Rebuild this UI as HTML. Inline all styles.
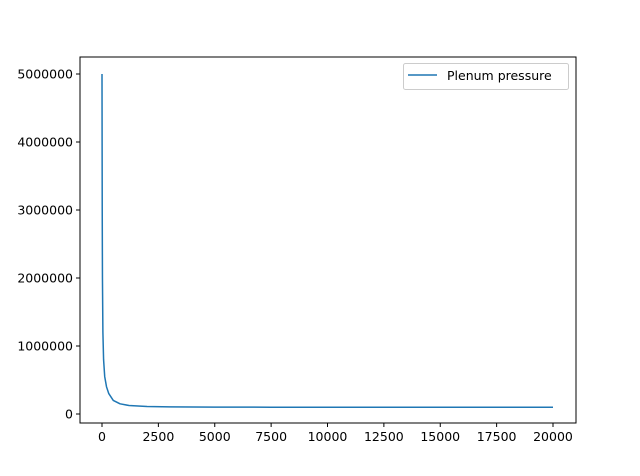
<!DOCTYPE html>
<html><head><meta charset="utf-8"><style>
body{margin:0;background:#fff;}
svg{display:block;font-family:"DejaVu Sans","Liberation Sans",sans-serif;}
</style></head><body>
<svg id="chart" width="640" height="476"></svg>
<script>
const times=[0,5,10,20,40,70,120,200,300,500,800,1200,2000,3000,5000,7500,10000,15000,20000];
const pressures=[5000000,4000000,3000000,2000000,1200000,800000,550000,400000,300000,200000,150000,125000,110000,104000,101000,100000,100000,100000,100000];
const xTicks=[0,2500,5000,7500,10000,12500,15000,17500,20000];
const yTicks=[0,1000000,2000000,3000000,4000000,5000000];
const seriesName='Plenum pressure';
const L=80,R=576,T=57,B=423;
const X=v=>102+v*(553-102)/20000;
const Y=v=>414-v*(414-74)/5000000;
const svg=document.getElementById('chart');
const NS='http://www.w3.org/2000/svg';
function mk(tag,attrs,parent){const e=document.createElementNS(NS,tag);for(const k in attrs)e.setAttribute(k,attrs[k]);(parent||svg).appendChild(e);return e;}
const frame=mk('rect',{x:L,y:T,width:R-L,height:B-T,fill:'none',stroke:'#000','stroke-width':1});


xTicks.forEach(t=>{
  const g=mk('g',{});
  
  
  mk('line',{x1:X(t),x2:X(t),y1:B,y2:B+4,stroke:'#000'},g);
  const tx=mk('text',{x:X(t),y:B+18,'text-anchor':'middle','font-size':12.5},g);tx.textContent=t;
});
yTicks.forEach(t=>{
  const g=mk('g',{});
  
  
  mk('line',{x1:L-4,x2:L,y1:Y(t),y2:Y(t),stroke:'#000'},g);
  const tx=mk('text',{x:L-7,y:Y(t)+4.5,'text-anchor':'end','font-size':12.5},g);tx.textContent=t;
});
const line=mk('path',{d:times.map((t,i)=>(i?'L':'M')+X(t).toFixed(2)+' '+Y(pressures[i]).toFixed(2)).join(' '),fill:'none',stroke:'#1f77b4','stroke-width':1.5,'stroke-linejoin':'round'});


const lg=mk('g',{});


mk('rect',{x:403.5,y:63.5,width:165,height:26,rx:2,fill:'#fff',stroke:'#ccc'},lg);
mk('line',{x1:408,x2:437,y1:75,y2:75,stroke:'#1f77b4','stroke-width':1.5},lg);
const lt=mk('text',{x:447,y:80,'font-size':12.5},lg);lt.textContent=seriesName;
</script>
</body></html>
